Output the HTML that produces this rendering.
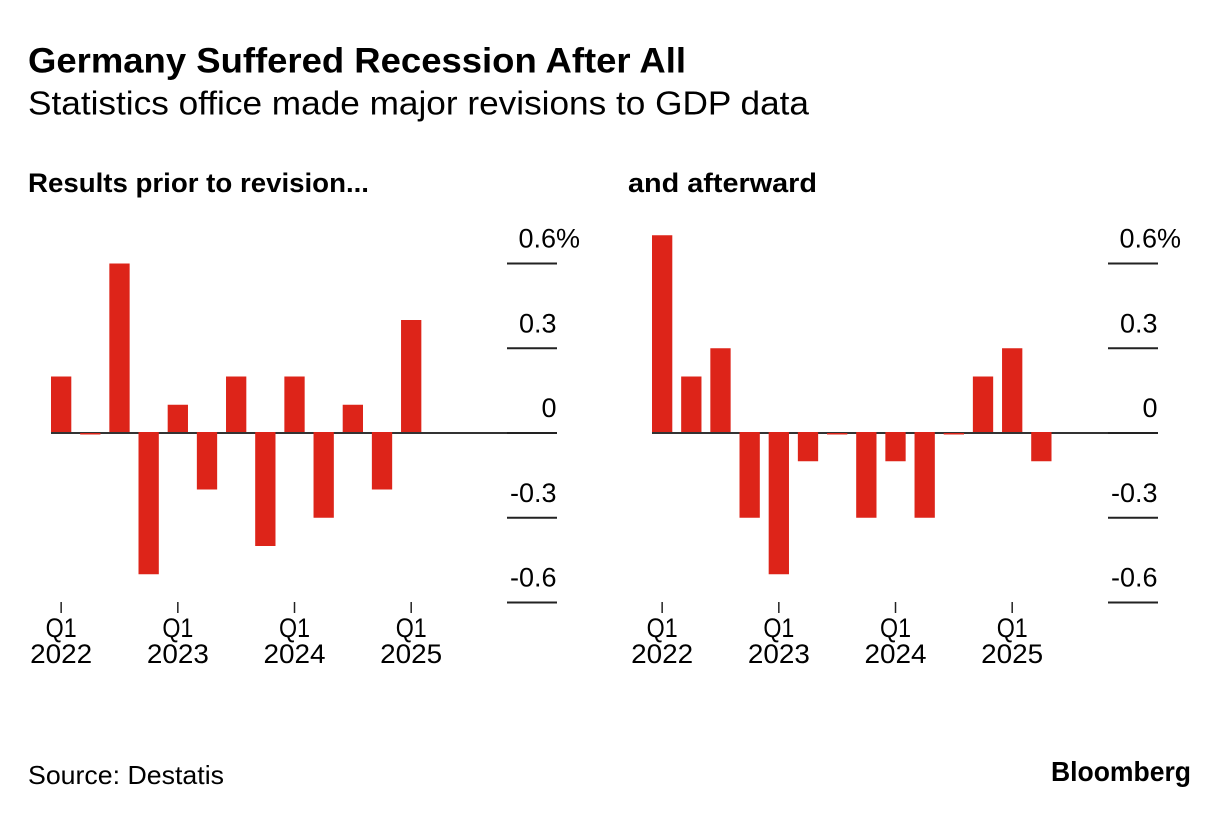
<!DOCTYPE html>
<html lang="en">
<head>
<meta charset="utf-8">
<title>Germany Suffered Recession After All</title>
<style>
html,body{margin:0;padding:0;background:#fff;}
svg{display:block;font-family:"Liberation Sans",Arial,sans-serif;fill:#000;}
</style>
</head>
<body>
<svg id="chart" width="1230" height="816" viewBox="0 0 1230 816" xmlns="http://www.w3.org/2000/svg">
  <rect width="1230" height="816" fill="#fff"/>
  <text x="28" y="72.5" font-size="35" font-weight="700" textLength="658" lengthAdjust="spacingAndGlyphs">Germany Suffered Recession After All</text>
  <text x="28" y="114.5" font-size="33" textLength="781" lengthAdjust="spacingAndGlyphs">Statistics office made major revisions to GDP data</text>
  <text x="28" y="192" font-size="27" font-weight="700" textLength="341" lengthAdjust="spacingAndGlyphs">Results prior to revision...</text>
  <text x="628" y="192" font-size="27" font-weight="700" textLength="189" lengthAdjust="spacingAndGlyphs">and afterward</text>
  <g id="left-panel"></g>
  <g id="right-panel"></g>
  <text x="28" y="784" font-size="26" textLength="196" lengthAdjust="spacingAndGlyphs">Source: Destatis</text>
  <text x="1051" y="781" font-size="28" font-weight="700" textLength="140" lengthAdjust="spacingAndGlyphs">Bloomberg</text>
</svg>
<script>
const quarters = ['Q1 2022','Q2 2022','Q3 2022','Q4 2022','Q1 2023','Q2 2023','Q3 2023','Q4 2023','Q1 2024','Q2 2024','Q3 2024','Q4 2024','Q1 2025','Q2 2025'];
const priorValues = [0.2, 0, 0.6, -0.5, 0.1, -0.2, 0.2, -0.4, 0.2, -0.3, 0.1, -0.2, 0.4];
const revisedValues = [0.7, 0.2, 0.3, -0.3, -0.5, -0.1, 0, -0.3, -0.1, -0.3, 0, 0.2, 0.3, -0.1];
const yTickValues = [0.6, 0.3, 0, -0.3, -0.6];
const yTickLabels = ['0.6%', '0.3', '0', '-0.3', '-0.6'];

const NS = 'http://www.w3.org/2000/svg';
const ZERO_Y = 433;
const PX_PER_UNIT = 282.5;
const STEP = 29.17;
const BAR_WIDTH = 20.3;

function yScale(v) { return ZERO_Y - v * PX_PER_UNIT; }
function xScale(i, originX) { return originX + i * STEP; }

function shape(parent, tag, props, content) {
  const el = document.createElementNS(NS, tag);
  for (const k in props) el.setAttribute(k, props[k]);
  if (content !== undefined) el.textContent = content;
  parent.appendChild(el);
  return el;
}

function drawPanel(panelId, values, originX, tickOriginX) {
  const g = document.getElementById(panelId);

  // Baseline across the plot area
  const axis = shape(g, 'rect', {x: originX, y: yScale(0) - 1, width: tickOriginX + 50 - originX, height: 2, fill: '#333'});
  
  

  // Horizontal y ticks with labels above them
  yTickValues.forEach(function (v, i) {
    const y = yScale(v);
    const line = shape(g, 'rect', {x: tickOriginX, y: y - 1, width: 50, height: 2, fill: '#222'});
    
    
    const hasUnit = yTickLabels[i].indexOf('%') !== -1;
    const label = shape(g, 'text', {
      x: tickOriginX + (hasUnit ? 73 : 49.5),
      y: y - 16,
      'font-size': 27,
      'text-anchor': 'end'
    }, yTickLabels[i]);
    
    
  });

  // Bars
  values.forEach(function (v, i) {
    const x = xScale(i, originX);
    let top, h;
    if (v > 0) {
      top = yScale(v);
      h = yScale(0) - 1 - top;
    } else if (v < 0) {
      top = yScale(0) - 1;
      h = yScale(v) - top;
    } else {
      top = yScale(0);
      h = 1.5;
    }
    const bar = shape(g, 'rect', {x: x, y: top, width: BAR_WIDTH, height: h, fill: '#dd2419'});
    
    
  });

  // X ticks at each first quarter
  quarters.forEach(function (q, i) {
    const parts = q.split(' ');
    if (parts[0] !== 'Q1') return;
    const cx = xScale(i, originX) + BAR_WIDTH / 2;
    const tick = shape(g, 'rect', {x: cx - 0.75, y: 602, width: 1.5, height: 11, fill: '#222'});
    
    
    const qLabel = shape(g, 'text', {x: cx, y: 637, 'font-size': 27, 'text-anchor': 'middle', textLength: 31, lengthAdjust: 'spacingAndGlyphs'}, parts[0]);
    
    
    const yLabel = shape(g, 'text', {x: cx, y: 663, 'font-size': 27, 'text-anchor': 'middle', textLength: 62, lengthAdjust: 'spacingAndGlyphs'}, parts[1]);
    
    
  });
}

drawPanel('left-panel', priorValues, 51, 507);
drawPanel('right-panel', revisedValues, 652, 1108);
</script>
</body>
</html>
